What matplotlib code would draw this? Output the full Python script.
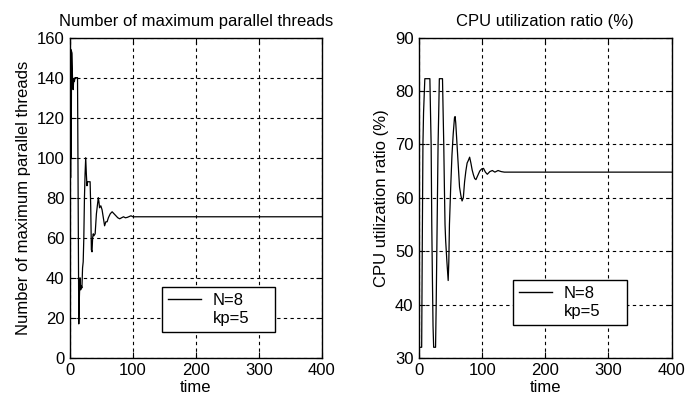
import matplotlib
matplotlib.use('Agg')
import matplotlib.pyplot as plt
from matplotlib.lines import Line2D

plt.rcParams['font.family'] = ['Liberation Sans', 'DejaVu Sans']
plt.rcParams['font.size'] = 12

# left panel: number of maximum parallel threads
t_thr = [0, 0.5, 1, 1.5, 2, 2.5, 3, 4, 5, 6, 7, 8, 10, 12, 13, 14, 15, 16, 17, 18,
         19, 20, 21, 22, 23, 24, 25, 26, 27, 28, 30, 32, 33, 34, 35, 36, 37, 38, 40,
         42, 45, 46, 47, 49, 51, 53, 55, 57, 59, 61, 64, 67, 70, 73, 76, 79, 82, 85,
         88, 91, 94, 97, 100, 400]
threads = [86, 155, 90, 154, 100, 153, 152, 140, 134, 139, 138, 140, 140, 140, 80, 17,
           31, 40, 34, 36, 35, 45, 48, 60, 80, 92, 100, 92, 86, 88, 88, 88, 75, 54,
           53, 60, 62, 61, 62, 72, 80, 78, 75, 76, 74, 70, 66, 68, 68, 70, 72, 73, 72,
           71, 70, 69.5, 70, 70.5, 70, 70.2, 70.6, 71, 70.5, 70.5]

# right panel: CPU utilization ratio
t_cpu = [0, 4, 5, 6, 7, 9, 17, 18, 19, 20, 21, 22, 23, 26, 27, 28, 29, 30, 31, 32,
         37, 38, 39, 40, 41, 42, 44, 46, 47, 48, 50, 52, 54, 56, 57, 58, 60, 62, 64,
         66, 68, 70, 72, 74, 76, 78, 80, 82, 84, 86, 88, 90, 93, 96, 99, 102, 105,
         108, 112, 116, 120, 125, 130, 135, 400]
cpu = [32, 32, 52, 70, 76, 82.3, 82.3, 76, 70, 55, 45, 36, 32, 32, 40, 50, 60, 70,
       76, 82.3, 82.3, 76, 70, 62, 55, 52, 48, 44.5, 48, 55, 62, 68, 72, 75, 75.2,
       74, 70, 66, 62, 60.5, 59.4, 60, 63, 65, 66.5, 67, 67.6, 66.5, 65.2, 64.3, 63.6,
       63.4, 64.2, 65, 65.4, 65.5, 64.8, 64.4, 64.9, 65.1, 64.8, 65.1, 64.9, 64.8, 64.8]

legend_labels = ['N=8', 'kp=5']

fig = plt.figure(figsize=(6.86, 4.04), dpi=100)
ax1 = fig.add_axes([0.102, 0.114, 0.367, 0.793])
ax2 = fig.add_axes([0.611, 0.114, 0.368, 0.793])


def style(ax):
    ax.grid(True, color='black', linestyle=(0, (3, 3)), linewidth=0.8)
    ax.tick_params(direction='in', top=True, right=True, length=4, pad=4)
    for s in ax.spines.values():
        s.set_linewidth(1.0)
    ax.set_xlim(0, 400)
    ax.set_xticks([0, 100, 200, 300, 400])
    ax.set_xlabel('time', labelpad=1)


def add_legend(ax, x0, y0, w):
    handles = [Line2D([], [], color='black', linewidth=1),
               Line2D([], [], linestyle='none')]
    leg = ax.legend(handles, legend_labels, loc='lower left',
                    bbox_to_anchor=(x0, y0, w, 0.14), mode='expand',
                    borderaxespad=0, fancybox=False, framealpha=1,
                    edgecolor='black', handlelength=2.0, handletextpad=0.7,
                    labelspacing=0.2, borderpad=0.35)
    leg.get_frame().set_linewidth(1.0)


ax1.plot(t_thr, threads, color='black', linewidth=0.9)
style(ax1)
ax1.set_ylim(0, 160)
ax1.set_yticks(range(0, 161, 20))
ax1.set_title('Number of maximum parallel threads', fontsize=12, pad=8)
ax1.set_ylabel('Number of maximum parallel threads', labelpad=4)
add_legend(ax1, 0.365, 0.081, 0.448)

ax2.plot(t_cpu, cpu, color='black', linewidth=0.9)
style(ax2)
ax2.set_ylim(30, 90)
ax2.set_yticks(range(30, 91, 10))
ax2.set_title('CPU utilization ratio (%)', fontsize=12, pad=8)
ax2.set_ylabel('CPU utilization ratio (%)', labelpad=4)
add_legend(ax2, 0.372, 0.103, 0.452)

fig.savefig('out.png', dpi=100)
